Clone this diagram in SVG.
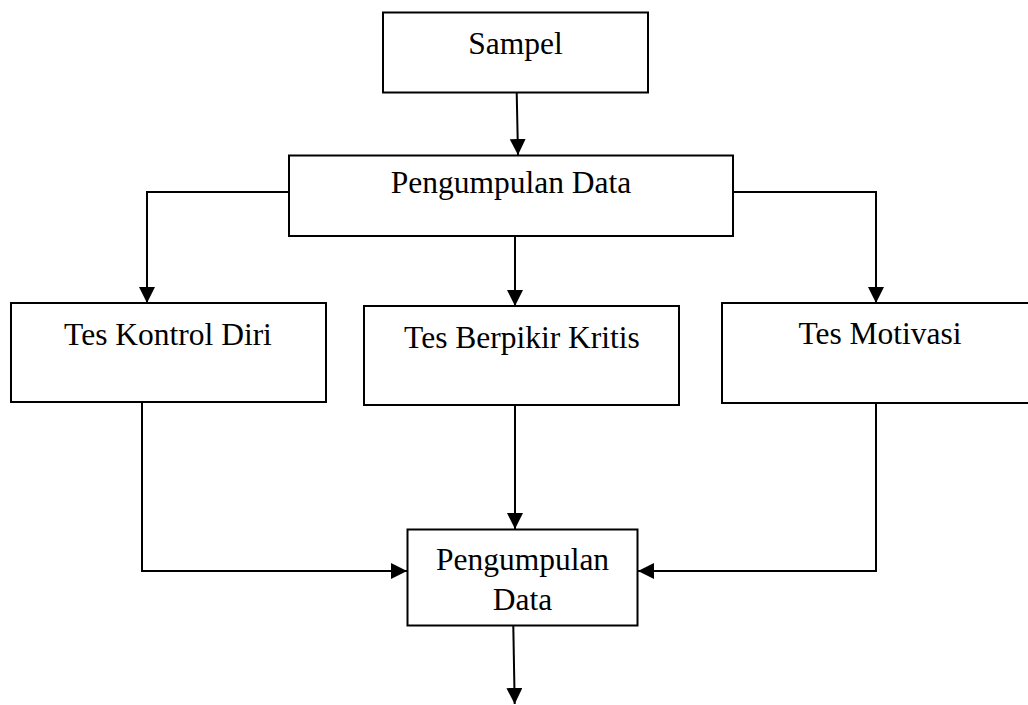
<svg xmlns="http://www.w3.org/2000/svg" width="1028" height="705" viewBox="0 0 1028 705">
<style>
.box{fill:#fff;stroke:#000;stroke-width:2}
.t{font-family:"Liberation Serif","Times New Roman",serif;font-size:31.5px;fill:#000;text-anchor:middle}
.c{fill:none;stroke:#000;stroke-width:2}
</style>
<defs>
<marker id="ah" markerWidth="16" markerHeight="16" viewBox="0 0 16 16" refX="16" refY="8" orient="auto" markerUnits="userSpaceOnUse">
<path d="M0,0 L16,8 L0,16 Z" fill="#000"/>
</marker>
</defs>
<rect width="1028" height="705" fill="#fff"/>
<g id="connectors">
<path class="c" d="M516.7,93 L518,155" marker-end="url(#ah)"/>
<path class="c" d="M289,192 L147,192 L147,303" marker-end="url(#ah)"/>
<path class="c" d="M515,236 L515,306" marker-end="url(#ah)"/>
<path class="c" d="M733,192 L876,192 L876,303" marker-end="url(#ah)"/>
<path class="c" d="M142,402 L142,571 L407,571" marker-end="url(#ah)"/>
<path class="c" d="M515,405 L515,529" marker-end="url(#ah)"/>
<path class="c" d="M876,403 L876,571 L638,571" marker-end="url(#ah)"/>
<path class="c" d="M513.3,626 L514.7,704" marker-end="url(#ah)"/>
</g>
<g id="sampel">
<rect class="box" x="383" y="12.5" width="265" height="80"/>
<text class="t" x="515.5" y="54">Sampel</text>
</g>
<g id="pengumpulan-data-1">
<rect class="box" x="289" y="155.5" width="444" height="80.5"/>
<text class="t" x="511" y="193">Pengumpulan Data</text>
</g>
<g id="tes-kontrol-diri">
<rect class="box" x="11" y="303" width="315" height="99"/>
<text class="t" x="168" y="345">Tes Kontrol Diri</text>
</g>
<g id="tes-berpikir-kritis">
<rect class="box" x="364" y="306" width="315" height="99"/>
<text class="t" x="522" y="348">Tes Berpikir Kritis</text>
</g>
<g id="tes-motivasi">
<rect class="box" x="722" y="303" width="320" height="100"/>
<text class="t" x="880" y="344">Tes Motivasi</text>
</g>
<g id="pengumpulan-data-2">
<rect class="box" x="407.5" y="529.5" width="230" height="96"/>
<text class="t" x="522.5" y="570">Pengumpulan</text>
<text class="t" x="522.5" y="610">Data</text>
</g>
</svg>
